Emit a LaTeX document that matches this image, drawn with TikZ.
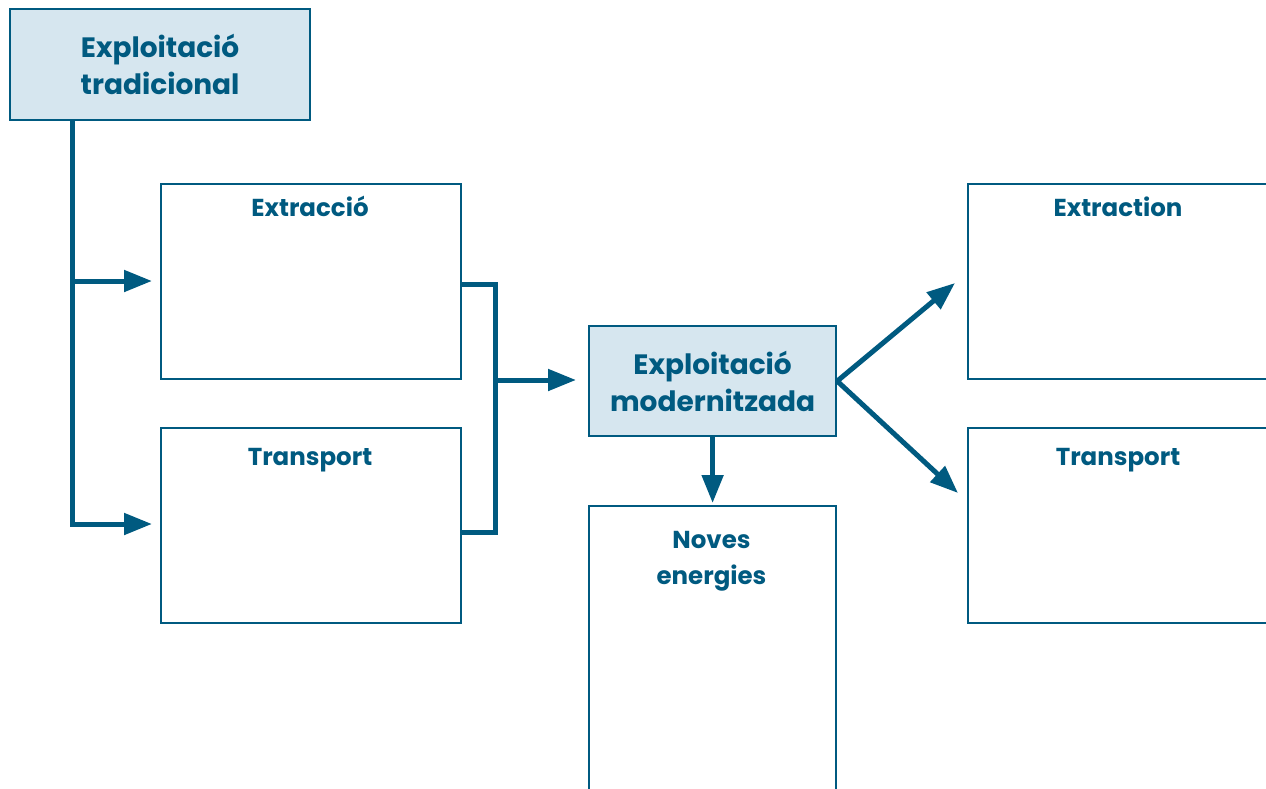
\documentclass[tikz,border=0pt]{standalone}
\usepackage{fontspec}
\setmainfont{Poppins}
\usetikzlibrary{arrows.meta}
\definecolor{teal1}{HTML}{005A80}
\definecolor{fillb}{HTML}{D6E6EF}
\begin{document}
\begin{tikzpicture}[x=1pt,y=-1pt,
  frame/.style={draw=teal1, line width=2.2pt, fill=white, rectangle, inner sep=0pt, anchor=north west},
  hbox/.style={frame, fill=fillb, text=teal1, align=center, font=\bfseries\fontsize{28}{37}\selectfont},
  lbl/.style={text=teal1, inner sep=0pt, align=center, font=\bfseries\fontsize{24.5}{36}\selectfont},
  conn/.style={draw=teal1, line width=5pt, line join=miter},
  arr/.style={conn, -{Triangle[length=28pt,width=21pt]}}
]
\useasboundingbox (0,0) rectangle (1266,789);
% boxes
\node[hbox, minimum width=300pt, minimum height=111pt] (trad) at (9,8) {Exploitació\\tradicional};
\node[frame, minimum width=300pt, minimum height=195pt] (ext1) at (160,183) {};
\node[frame, minimum width=300pt, minimum height=195pt] (tr1) at (160,427) {};
\node[hbox, minimum width=247pt, minimum height=110pt] (mod) at (588,325) {Exploitació\\modernitzada};
\node[frame, minimum width=247pt, minimum height=330pt] (nov) at (588,505) {};
\node[frame, minimum width=330pt, minimum height=195pt] (ext2) at (967,183) {};
\node[frame, minimum width=330pt, minimum height=195pt] (tr2) at (967,427) {};
% labels
\node[lbl, anchor=base] (ext1t) at (310,216) {Extracció};
\node[lbl, anchor=base] (tr1t) at (310,465) {Transport};
\node[lbl, anchor=north] (novt) at (711.5,531.5) {Noves\\energies};
\node[lbl, anchor=base] (ext2t) at (1118,216) {Extraction};
\node[lbl, anchor=base] (tr2t) at (1118,465) {Transport};
% connectors
\coordinate (j1) at (72,281);
\coordinate (j2) at (72,524);
\draw[arr, shorten >=8pt] (trad.south -| j1) -- (j2) -- (tr1.west |- j2);
\draw[arr, shorten >=8pt] (j1) -- (ext1.west |- j1);
\coordinate (b1) at (495,284);
\coordinate (b2) at (495,532);
\coordinate (bm) at (495,380);
\draw[conn] (ext1.east |- b1) -- (b1) -- (b2) -- (tr1.east |- b2);
\draw[arr, shorten >=12pt] (bm) -- (mod.west |- bm);
\draw[arr, shorten >=2pt] (mod.south) -- (nov.north);
\coordinate (e1) at (955,283);
\coordinate (e2) at (958,493);
\draw[arr] (mod.east) -- (e1);
\draw[arr] (mod.east) -- (e2);
\end{tikzpicture}
\end{document}
